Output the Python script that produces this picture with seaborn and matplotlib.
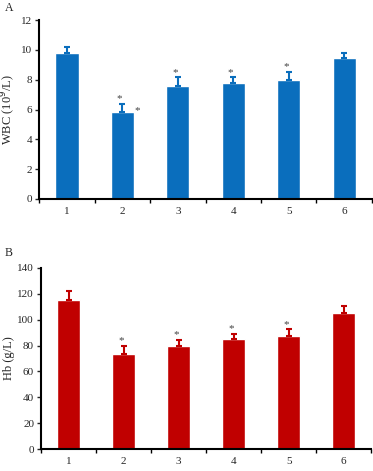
import numpy as np
import pandas as pd
import matplotlib
matplotlib.use('Agg')
import matplotlib.pyplot as plt
import seaborn as sns

groups = ['1', '2', '3', '4', '5', '6']
wbc = [9.8, 5.85, 7.6, 7.8, 8.0, 9.45]
wbc_err = [0.4, 0.5, 0.55, 0.35, 0.5, 0.35]
hb = [115, 73.5, 80, 85, 87.5, 105.5]
hb_err = [7, 6, 4.5, 4, 5, 5]
signif = [False, True, True, True, True, False]

sns.set_style('white')
plt.rcParams['font.family'] = ['Liberation Serif', 'DejaVu Serif']

fig = plt.figure(figsize=(3.73, 4.71), dpi=100)
ax1 = fig.add_axes([0.105, 0.5775, 0.892, 0.38])
ax2 = fig.add_axes([0.11, 0.0467, 0.885, 0.3843])


def panel(ax, vals, errs, color, ymax, step, ylabel, off):
    df = pd.DataFrame({'group': groups, 'value': vals})
    sns.barplot(data=df, x='group', y='value', color=color, width=0.42,
                saturation=1, ax=ax, errorbar=None)
    ax.errorbar(range(len(vals)), vals, yerr=[np.zeros(len(vals)), errs],
                fmt='none', ecolor=color, elinewidth=1.5, capsize=2.5, capthick=1.5)
    for i, (v, e, s) in enumerate(zip(vals, errs, signif)):
        if s:
            ax.text(i - 0.05, v + e + off, '*', ha='center', va='center',
                    fontsize=8, color='#444444')
    ax.set_ylim(0, ymax)
    ax.set_yticks(np.arange(0, ymax + step / 2, step))
    ax.set_xlim(-0.5, 5.5)
    ax.set_xticks(np.arange(-0.5, 6, 1))
    ax.set_xticklabels([])
    ax.set_xticks(range(6), minor=True)
    ax.set_xticklabels(groups, minor=True)
    ax.tick_params(axis='x', which='major', direction='out', length=3, width=1, colors='black')
    ax.tick_params(axis='x', which='minor', length=0, pad=6, labelsize=8)
    ax.tick_params(axis='y', direction='out', length=3, width=1, labelsize=8, pad=2)
    ax.tick_params(left=True, bottom=True)
    ax.set_xlabel('')
    ax.set_ylabel(ylabel, fontsize=9, labelpad=2)
    for sp in ['top', 'right']:
        ax.spines[sp].set_visible(False)
    for sp in ['left', 'bottom']:
        ax.spines[sp].set_color('black')
        ax.spines[sp].set_linewidth(1.5)


panel(ax1, wbc, wbc_err, '#0a6ebd', 12, 2, 'WBC (10$^9$/L)', 0.35)
# extra asterisk right of bar 2
ax1.text(1.27, wbc[1] + 0.05, '*', ha='center', va='center', fontsize=8, color='#444444')
panel(ax2, hb, hb_err, '#c00000', 140, 20, 'Hb (g/L)', 4)

fig.text(0.012, 0.983, 'A', fontsize=8.5, va='center')
fig.text(0.012, 0.463, 'B', fontsize=8.5, va='center')

fig.savefig('out.png', dpi=100)
